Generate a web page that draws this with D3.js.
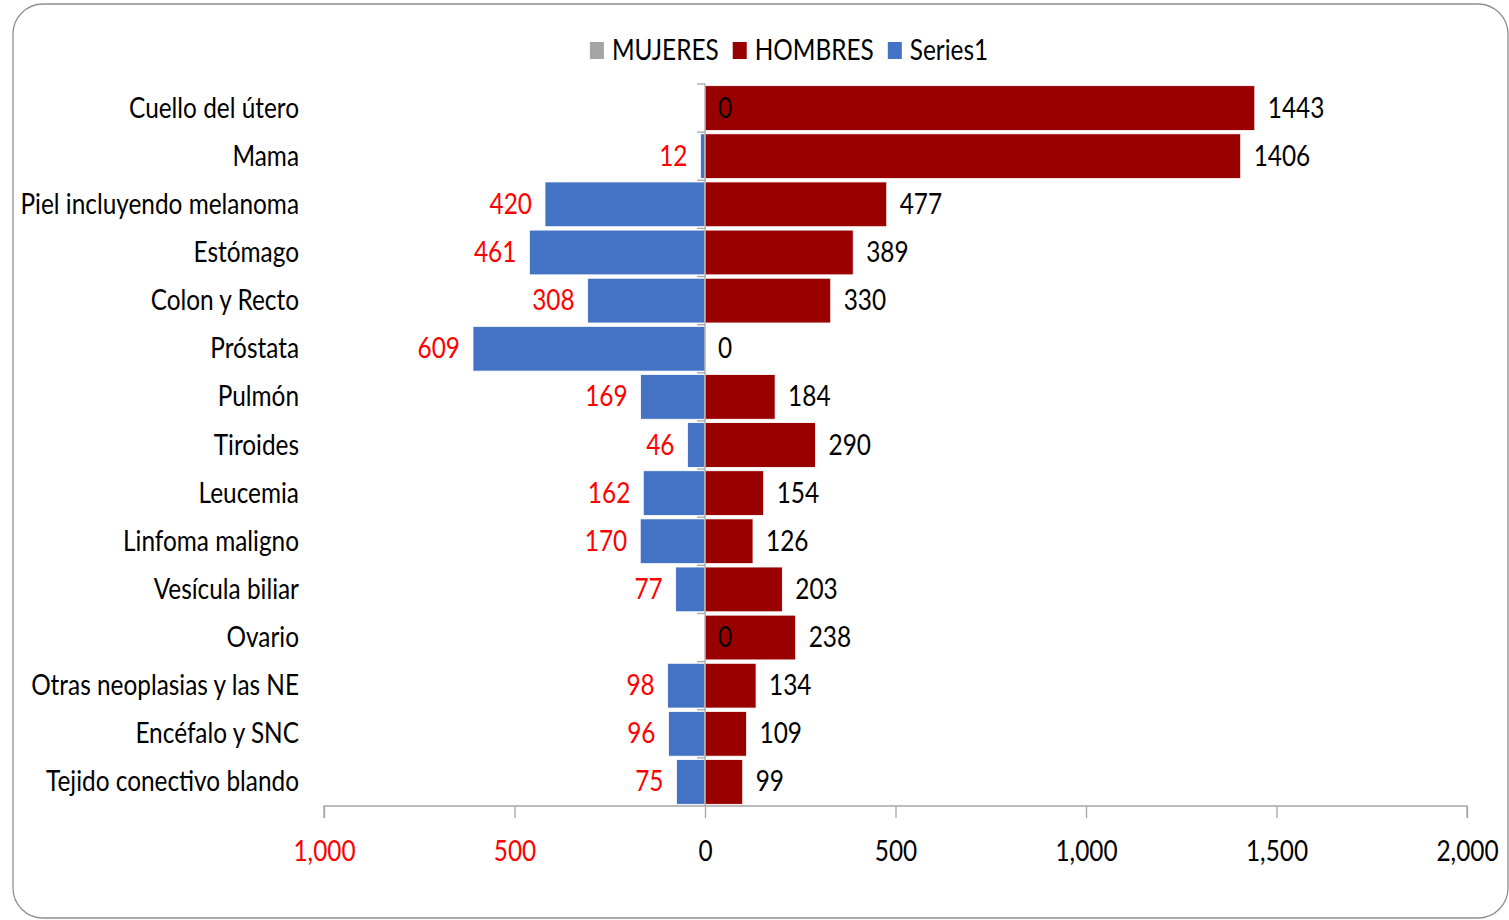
<!DOCTYPE html>
<html><head><meta charset="utf-8">
<script src="https://cdn.jsdelivr.net/npm/d3@7"></script>
<style>
body{margin:0;background:#fff}
svg{display:block}
text{font-family:Lato,"Open Sans",sans-serif}
</style>
</head><body>
<svg id="c" width="1509" height="920"></svg>
<script>
const categories = ["Cuello del útero","Mama","Piel incluyendo melanoma","Estómago","Colon y Recto","Próstata","Pulmón","Tiroides","Leucemia","Linfoma maligno","Vesícula biliar","Ovario","Otras neoplasias y las NE","Encéfalo y SNC","Tejido conectivo blando"];
const hombres = [1443,1406,477,389,330,0,184,290,154,126,203,238,134,109,99];
const series1 = [0,12,420,461,308,609,169,46,162,170,77,0,98,96,75];
const mujeres = [0,null,null,null,null,null,null,null,null,null,null,0,null,null,null];
const xTicks = [-1000,-500,0,500,1000,1500,2000];
const legendNames = ["MUJERES","HOMBRES","Series1"];
const colors = {MUJERES:"#A5A5A5", HOMBRES:"#990000", Series1:"#4472C4"};

const FS = 29;
const svg = d3.select("#c");

// horizontal squeeze factor to mimic the condensed look of the reference font
const probe = svg.append("text").attr("font-size",FS).text(categories[0]);
const SX = 170 / probe.node().getComputedTextLength();
probe.remove();
function place(sel, fx, fy){
  return sel.attr("x",0).attr("y",0)
    .attr("transform",(d,i)=>`translate(${fx(d,i)},${fy(d,i)}) scale(${SX},1)`);
}

// frame
svg.append("rect").attr("x",13).attr("y",4).attr("width",1495).attr("height",914)
  .attr("rx",30).attr("ry",30).attr("fill","#fff").attr("stroke","#8f8f8f").attr("stroke-width",1.3);

const x = d3.scaleLinear().domain([-1000,2000]).range([324,1467]);
const y = d3.scaleBand().domain(categories).range([84,806]).paddingInner(0.07).paddingOuter(0.035);
const cy = d => y(d) + y.bandwidth()/2;

// bars
const g = svg.append("g");
g.selectAll("rect.s1").data(categories).join("rect").attr("class","s1")
  .attr("x",(d,i)=>x(-series1[i])).attr("width",(d,i)=>x(0)-x(-series1[i]))
  .attr("y",d=>y(d)).attr("height",y.bandwidth())
  .attr("fill",colors.Series1).attr("stroke","#fff").attr("stroke-width",0.8);
g.selectAll("rect.h").data(categories).join("rect").attr("class","h")
  .attr("x",x(0)).attr("width",(d,i)=>x(hombres[i])-x(0))
  .attr("y",d=>y(d)).attr("height",y.bandwidth())
  .attr("fill",colors.HOMBRES).attr("stroke","#fff").attr("stroke-width",0.8);

// vertical axis at 0
const axisColor = "#a6a6a6";
svg.append("line").attr("x1",x(0)).attr("x2",x(0)).attr("y1",84).attr("y2",806)
  .attr("stroke",axisColor).attr("stroke-width",1.3);
const bounds = categories.map(c=>y(c)-y.step()*y.paddingInner()/2);
svg.selectAll("line.yt").data(bounds).join("line").attr("class","yt")
  .attr("x1",x(0)-8).attr("x2",x(0)).attr("y1",d=>d).attr("y2",d=>d)
  .attr("stroke",axisColor).attr("stroke-width",1.3);

// category labels
place(svg.selectAll("text.cat").data(categories).join("text").attr("class","cat"),
  ()=>299, d=>cy(d)+9.5)
  .attr("text-anchor","end").attr("font-size",FS).attr("fill","#000").text(d=>d);

// x axis
const xAxis = svg.append("g").attr("transform","translate(0,806)")
  .call(d3.axisBottom(x).tickValues(xTicks).tickSize(12)
    .tickFormat(d=>d3.format(",")(Math.abs(d))));
xAxis.select(".domain").attr("stroke",axisColor).attr("stroke-width",1.3).attr("d",`M${x(-1000)},12V0H${x(2000)}V12`);
xAxis.selectAll(".tick line").attr("stroke",axisColor).attr("stroke-width",1.3);
xAxis.selectAll(".tick text").attr("font-size",FS).attr("font-family",null)
  .attr("fill",d=>d<0?"#FF0000":"#000").attr("dy",null).attr("y",0)
  .attr("transform",`translate(0,55) scale(${SX},1)`);

// value labels
place(svg.selectAll("text.hl").data(categories).join("text").attr("class","hl"),
  (d,i)=>x(hombres[i])+13, d=>cy(d)+9.5)
  .attr("font-size",FS).attr("fill","#000").text((d,i)=>hombres[i]);
const s1Cats = categories.filter((d,i)=>series1[i]>0);
place(svg.selectAll("text.sl").data(s1Cats).join("text").attr("class","sl"),
  d=>x(-series1[categories.indexOf(d)])-13, d=>cy(d)+9.5)
  .attr("text-anchor","end").attr("font-size",FS).attr("fill","#FF0000")
  .text(d=>series1[categories.indexOf(d)]);
const mCats = categories.filter((d,i)=>mujeres[i]!==null);
place(svg.selectAll("text.ml").data(mCats).join("text").attr("class","ml"),
  ()=>x(0)+13, d=>cy(d)+9.5)
  .attr("font-size",FS).attr("fill","#000").text(d=>mujeres[categories.indexOf(d)]);

// legend
const lg = svg.append("g");
let lx = 0;
legendNames.forEach(n=>{
  const it = lg.append("g").attr("transform",`translate(${lx},0)`);
  it.append("rect").attr("x",0).attr("y",42).attr("width",14).attr("height",17).attr("fill",colors[n]);
  const t = it.append("text").attr("x",0).attr("y",0)
    .attr("transform",`translate(22,60) scale(${SX},1)`)
    .attr("font-size",FS).attr("fill","#000").text(n);
  lx += 22 + t.node().getComputedTextLength()*SX + 14;
});
const lw = lx - 14;
lg.attr("transform",`translate(${789 - lw/2},0)`);
</script>
</body></html>
